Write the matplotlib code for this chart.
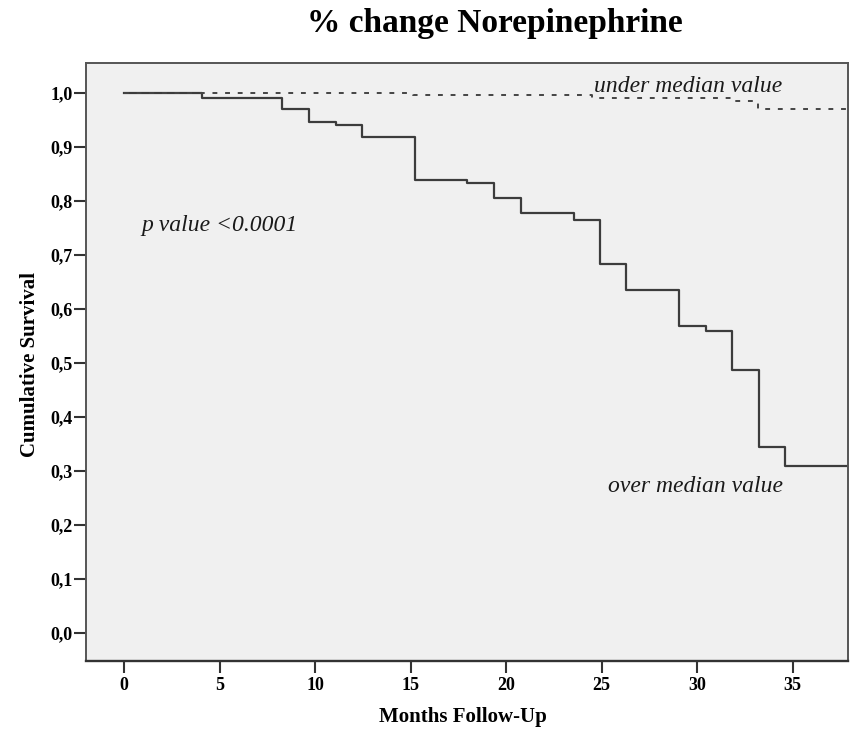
import matplotlib
matplotlib.use("Agg")
import matplotlib.pyplot as plt

# Data
over_t = [0, 4.1, 8.25, 9.66, 11.07, 12.47, 15.21, 17.95, 19.36, 20.76, 23.55, 24.9, 26.3, 29.05, 30.45, 31.84, 33.24, 34.62, 38]
over_s = [1.0, 0.991, 0.970, 0.947, 0.942, 0.918, 0.839, 0.834, 0.805, 0.779, 0.766, 0.683, 0.636, 0.568, 0.560, 0.487, 0.344, 0.309, 0.309]
under_t = [0, 15.1, 24.5, 31.9, 33.2, 38]
under_s = [1.0, 0.996, 0.991, 0.985, 0.970, 0.970]
xticks = [0, 5, 10, 15, 20, 25, 30, 35]
yticks = [0.0, 0.1, 0.2, 0.3, 0.4, 0.5, 0.6, 0.7, 0.8, 0.9, 1.0]
ytick_labels = ["0,0", "0,1", "0,2", "0,3", "0,4", "0,5", "0,6", "0,7", "0,8", "0,9", "1,0"]

serif = "Liberation Serif"
fig = plt.figure(figsize=(8.54, 7.31), dpi=100)
ax = fig.add_axes([0.1007, 0.0958, 0.993 - 0.1007, 0.9138 - 0.0958])
ax.set_facecolor("#f0f0f0")

ax.step(over_t, over_s, where="post", color="#3c3c3c", lw=1.6)
ax.step(under_t, under_s, where="post", color="#444444", lw=1.4, linestyle=(0, (2.5, 4)))

ax.set_xlim(-2.0, 37.9)
ax.set_ylim(-0.052, 1.056)
ax.set_xticks(xticks)
ax.set_xticklabels([str(v) for v in xticks], fontfamily=serif, fontweight="bold", fontsize=13)
ax.set_yticks(yticks)
ax.set_yticklabels(ytick_labels, fontfamily=serif, fontweight="bold", fontsize=13)
ax.tick_params(axis="both", direction="out", length=8.6, width=1.5, color="#333333")
ax.tick_params(axis="y", pad=0.8)
ax.tick_params(axis="x", pad=3)

for side, sp in ax.spines.items():
    sp.set_color("#555555")
    sp.set_linewidth(1.4)
ax.spines["bottom"].set_color("#333333")
ax.spines["bottom"].set_linewidth(1.7)

ax.set_xlabel("Months Follow-Up", fontfamily=serif, fontweight="bold", fontsize=15)
ax.set_ylabel("Cumulative Survival", fontfamily=serif, fontweight="bold", fontsize=15)
ax.xaxis.set_label_coords(0.495, -0.077)
ax.yaxis.set_label_coords(-0.060, 0.496)

fig.text(0.5796, 0.956, "% change Norepinephrine", ha="center", va="baseline",
         fontfamily=serif, fontweight="bold", fontsize=24)

ax.text(29.55, 1.003, "under median value", ha="center", va="baseline", fontfamily=serif,
        style="italic", fontsize=17, color="#1a1a1a")
ax.text(0.92, 0.744, "p value <0.0001", ha="left", va="baseline", fontfamily=serif,
        style="italic", fontsize=17, color="#1a1a1a")
ax.text(29.92, 0.2616, "over median value", ha="center", va="baseline", fontfamily=serif,
        style="italic", fontsize=17, color="#1a1a1a")

fig.savefig("out.png", dpi=100)
